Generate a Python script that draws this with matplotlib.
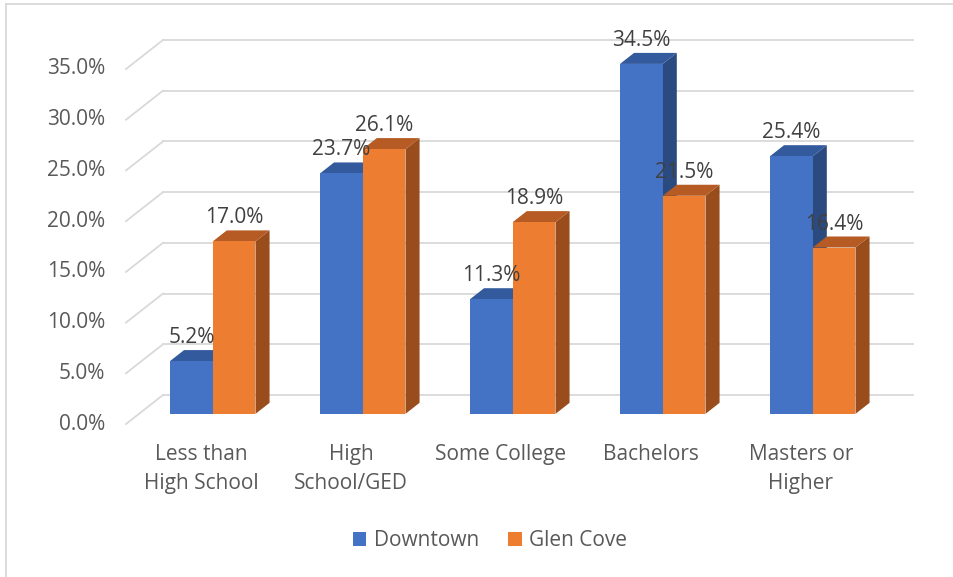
import matplotlib
matplotlib.use("Agg")
import matplotlib.pyplot as plt
from matplotlib.patches import Polygon, Patch
from matplotlib.lines import Line2D

# ---- data ----
categories = ["Less than\nHigh School", "High\nSchool/GED", "Some College",
              "Bachelors", "Masters or\nHigher"]
downtown = [5.2, 23.7, 11.3, 34.5, 25.4]
glen_cove = [17.0, 26.1, 18.9, 21.5, 16.4]
series_names = ["Downtown", "Glen Cove"]
y_ticks = [0, 5, 10, 15, 20, 25, 30, 35]

# ---- style ----
W, H, DPI = 954, 577, 100
FONT = "Open Sans"
FS = 15
TICK_COLOR = "#595959"
LABEL_COLOR = "#404040"
GRID_COLOR = "#D9D9D9"
faces = {
    "Downtown": ("#4472C4", "#335A9C", "#2B4A80"),    # front, top, side
    "Glen Cove": ("#ED7D31", "#B55B23", "#9A4D1C"),
}

# oblique depth of the plot box, in data units (categories, percent)
DX = 37 / 150
DY = 2.86
F1, F2 = 0.35, 0.73          # bar front / back depth fractions
BAR_W = 0.285
BAR_START = 0.207

plt.rcParams["font.family"] = [FONT, "DejaVu Sans"]

fig = plt.figure(figsize=(W / DPI, H / DPI), dpi=DPI)
fig.patch.set_facecolor("white")
ax = fig.add_axes([126 / W, (H - 424) / H, 750 / W, 355 / H])
ax.set_xlim(0, len(categories))
ax.set_ylim(0, 35)
ax.axis("off")

n = len(categories)

# back wall gridlines and the left-wall diagonals
for v in y_ticks:
    ax.add_line(Line2D([DX, n + DX], [v + DY, v + DY], color=GRID_COLOR,
                       lw=1.3, clip_on=False, zorder=1))
    ax.add_line(Line2D([0, DX], [v, v + DY], color=GRID_COLOR,
                       lw=1.3, clip_on=False, zorder=1))
    ax.annotate(f"{v:.1f}%", (0, v), xytext=(-21, 0), textcoords="offset pixels",
                ha="right", va="center", fontsize=FS, color=TICK_COLOR,
                annotation_clip=False)


def draw_bar(x0, value, name, z):
    front, top, side = faces[name]
    fx, fy = F1 * DX, F1 * DY
    sx, sy = (F2 - F1) * DX, (F2 - F1) * DY
    xl, xr = x0 + fx, x0 + BAR_W + fx
    yb, yt = fy, value + fy
    ax.add_patch(Polygon([(xr, yb), (xr + sx, yb + sy), (xr + sx, yt + sy), (xr, yt)],
                         closed=True, facecolor=side, edgecolor="none",
                         clip_on=False, zorder=z))
    ax.add_patch(Polygon([(xl, yt), (xl + sx, yt + sy), (xr + sx, yt + sy), (xr, yt)],
                         closed=True, facecolor=top, edgecolor="none",
                         clip_on=False, zorder=z))
    ax.add_patch(Polygon([(xl, yb), (xr, yb), (xr, yt), (xl, yt)],
                         closed=True, facecolor=front, edgecolor="none",
                         clip_on=False, zorder=z))
    return (xl + xr) / 2, yt


labels = []
z = 2
for i in range(n):
    for k, (name, vals) in enumerate(zip(series_names, [downtown, glen_cove])):
        x0 = i + BAR_START + k * BAR_W
        cx, ty = draw_bar(x0, vals[i], name, z)
        z += 1
        labels.append((cx, ty, vals[i]))

for cx, ty, v in labels:
    ax.annotate(f"{v:.1f}%", (cx, ty), xytext=(0, 18), textcoords="offset pixels",
                ha="center", va="baseline", fontsize=FS, color=LABEL_COLOR,
                annotation_clip=False, zorder=50)

# category labels under the front of the floor
for i, cat in enumerate(categories):
    ax.annotate(cat, (i + 0.5, 0), xytext=(0, -20), textcoords="offset pixels",
                ha="center", va="top", fontsize=FS, color=TICK_COLOR,
                linespacing=1.5, annotation_clip=False)

handles = [Patch(facecolor=faces[s][0], edgecolor="none") for s in series_names]
fig.legend(handles, series_names, loc="center", bbox_to_anchor=(490 / W, 1 - 541 / H),
           ncol=2, frameon=False, fontsize=FS, handlelength=0.65, handleheight=0.65,
           handletextpad=0.35, columnspacing=1.4, labelcolor=TICK_COLOR)

# chart area border
fig.add_artist(Line2D([6.5 / W, 6.5 / W], [0, 1 - 3.5 / H], transform=fig.transFigure,
                      color=GRID_COLOR, lw=1.3))
fig.add_artist(Line2D([6.5 / W, 1], [1 - 3.5 / H, 1 - 3.5 / H], transform=fig.transFigure,
                      color=GRID_COLOR, lw=1.3))

fig.savefig("out.png", dpi=DPI, facecolor="white")
